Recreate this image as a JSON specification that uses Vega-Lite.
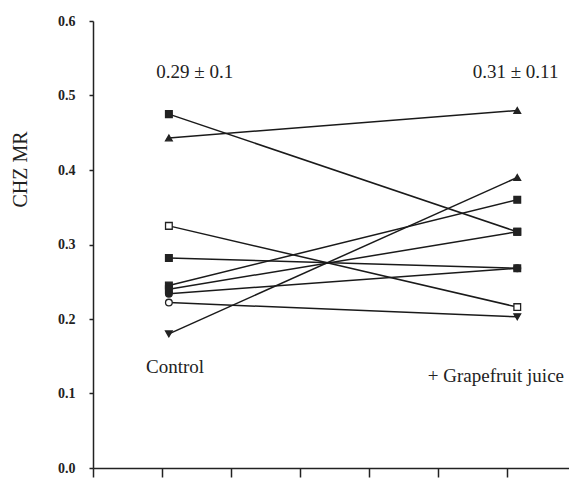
{
  "$schema": "https://vega.github.io/schema/vega-lite/v6.json",
  "width": 476,
  "height": 447,
  "autosize": "none",
  "padding": {"left": 93, "top": 21, "right": 0, "bottom": 18},
  "background": "white",
  "config": {"view": {"stroke": null}, "font": "Liberation Serif"},
  "datasets": {
    "pts": [
      {"patient": 1, "x": 2.2, "mr": 0.475, "shape": "square", "fill": "#222"},
      {"patient": 1, "x": 12.3, "mr": 0.317, "shape": "square", "fill": "#222"},
      {"patient": 2, "x": 2.2, "mr": 0.443, "shape": "triangle-up", "fill": "#222"},
      {"patient": 2, "x": 12.3, "mr": 0.48, "shape": "triangle-up", "fill": "#222"},
      {"patient": 3, "x": 2.2, "mr": 0.325, "shape": "square", "fill": "white"},
      {"patient": 3, "x": 12.3, "mr": 0.216, "shape": "square", "fill": "white"},
      {"patient": 4, "x": 2.2, "mr": 0.282, "shape": "square", "fill": "#222"},
      {"patient": 4, "x": 12.3, "mr": 0.268, "shape": "square", "fill": "#222"},
      {"patient": 5, "x": 2.2, "mr": 0.245, "shape": "square", "fill": "#222"},
      {"patient": 5, "x": 12.3, "mr": 0.36, "shape": "square", "fill": "#222"},
      {"patient": 6, "x": 2.2, "mr": 0.24, "shape": "square", "fill": "#222"},
      {"patient": 6, "x": 12.3, "mr": 0.317, "shape": "square", "fill": "#222"},
      {"patient": 7, "x": 2.2, "mr": 0.234, "shape": "circle", "fill": "#222"},
      {"patient": 7, "x": 12.3, "mr": 0.268, "shape": "circle", "fill": "#222"},
      {"patient": 8, "x": 2.2, "mr": 0.222, "shape": "circle", "fill": "white"},
      {"patient": 8, "x": 12.3, "mr": 0.203, "shape": "triangle-down", "fill": "#222"},
      {"patient": 9, "x": 2.2, "mr": 0.18, "shape": "triangle-down", "fill": "#222"},
      {"patient": 9, "x": 12.3, "mr": 0.39, "shape": "triangle-up", "fill": "#222"}
    ],
    "labels": [
      {"x": 2.95, "mr": 0.532, "text": "0.29 ± 0.1"},
      {"x": 12.25, "mr": 0.532, "text": "0.31 ± 0.11"},
      {"x": 2.38, "mr": 0.136, "text": "Control"},
      {"x": 11.68, "mr": 0.124, "text": "+ Grapefruit juice"}
    ]
  },
  "layer": [
    {
      "data": {"name": "pts"},
      "mark": {"type": "line", "color": "#1a1a1a", "strokeWidth": 1.5},
      "encoding": {
        "x": {
          "field": "x", "type": "quantitative",
          "scale": {"domain": [0, 13.8], "nice": false, "zero": false},
          "axis": {
            "title": null, "labels": false, "grid": false,
            "values": [0,1,2,3,4,5,6,7,8,9,10,11,12,13],
            "domainColor": "#222", "domainWidth": 1.5,
            "tickColor": "#222", "tickWidth": 1.5,
            "tickSize": {"condition": {"test": "datum.value % 2 === 0", "value": 9}, "value": 5}
          }
        },
        "y": {
          "field": "mr", "type": "quantitative",
          "scale": {"domain": [0, 0.6], "nice": false},
          "axis": {
            "title": "CHZ MR", "titleFont": "Liberation Serif", "titleFontSize": 20,
            "titleFontWeight": "normal", "titleColor": "#222",
            "titleX": -73, "titleY": 148, "titleBaseline": "middle", "titleAlign": "center", "titleAngle": -90,
            "grid": false,
            "values": [0,0.05,0.1,0.15,0.2,0.25,0.3,0.35,0.4,0.45,0.5,0.55,0.6],
            "labelExpr": "abs(datum.value*10 - round(datum.value*10)) < 0.001 ? format(datum.value, '.1f') : ''",
            "labelFont": "Liberation Serif", "labelFontSize": 14, "labelFontWeight": "bold",
            "labelColor": "#222", "labelPadding": 14,
            "domainColor": "#222", "domainWidth": 1.5,
            "tickColor": "#222", "tickWidth": 1.5, "tickSize": 4
          }
        },
        "detail": {"field": "patient"}
      }
    },
    {
      "data": {"name": "pts"},
      "mark": {"type": "point", "stroke": "#222", "strokeWidth": 1.3, "opacity": 1, "size": 45},
      "encoding": {
        "x": {"field": "x", "type": "quantitative"},
        "y": {"field": "mr", "type": "quantitative"},
        "shape": {"field": "shape", "type": "nominal", "scale": null},
        "fill": {"field": "fill", "type": "nominal", "scale": null}
      }
    },
    {
      "data": {"name": "labels"},
      "mark": {"type": "text", "font": "Liberation Serif", "fontSize": 19, "color": "#222", "baseline": "middle", "align": "center"},
      "encoding": {
        "x": {"field": "x", "type": "quantitative"},
        "y": {"field": "mr", "type": "quantitative"},
        "text": {"field": "text"}
      }
    }
  ]
}
